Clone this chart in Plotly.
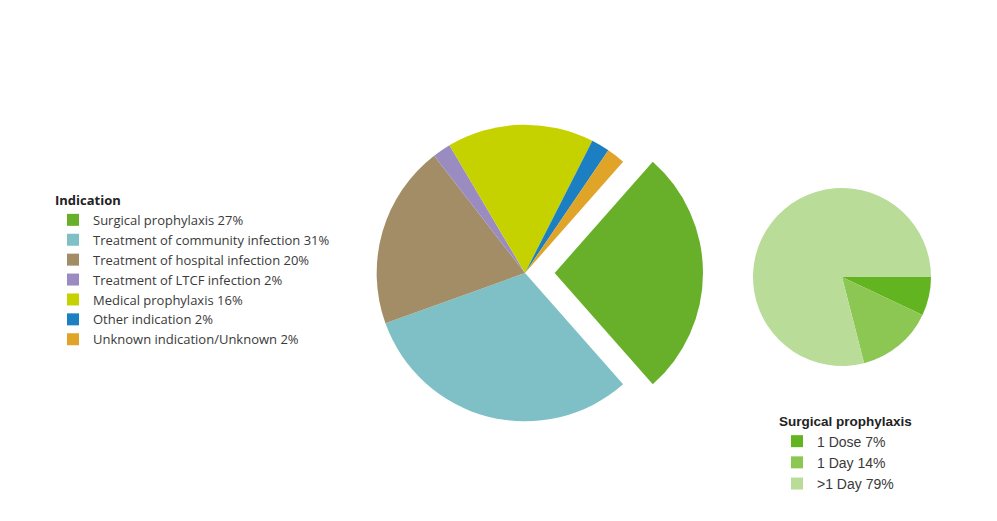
import plotly.graph_objects as go

indication_labels = ["Surgical prophylaxis 27%", "Treatment of community infection 31%",
                     "Treatment of hospital infection 20%", "Treatment of LTCF infection 2%",
                     "Medical prophylaxis 16%", "Other indication 2%", "Unknown indication/Unknown 2%"]
indication_values = [27, 31, 20, 2, 16, 2, 2]
indication_colors = ["#69b02a", "#7fbfc6", "#a38d66", "#9a8cc0", "#c6d200", "#1b7fc1", "#e0a428"]
indication_pull = [0.2, 0, 0, 0, 0, 0, 0]

surg_labels = ["1 Dose 7%", "1 Day 14%", ">1 Day 79%"]
surg_values = [7, 14, 79]
surg_colors = ["#62b421", "#8cc653", "#b9dc98"]

W, H = 997, 521
OFF = 8  # page body margin


def xd(a, b):
    return [(a - OFF) / W, (b - OFF) / W]


def yd(top, bottom):
    return [(H - bottom + OFF) / H, (H - top + OFF) / H]


fig = go.Figure()
fig.add_trace(go.Pie(
    labels=indication_labels, values=indication_values, sort=False,
    direction="clockwise", rotation=41.4, pull=indication_pull,
    marker=dict(colors=indication_colors, line=dict(width=0)),
    textinfo="none", hoverinfo="label",
    domain=dict(x=xd(347, 703), y=yd(95, 451)),
    legend="legend",
))
fig.add_trace(go.Pie(
    labels=surg_labels, values=surg_values, sort=False,
    direction="clockwise", rotation=90,
    marker=dict(colors=surg_colors, line=dict(width=0)),
    textinfo="none", hoverinfo="label",
    domain=dict(x=xd(753, 931), y=yd(188, 366)),
    legend="legend2",
))

fig.update_layout(
    width=W, height=H,
    margin=dict(l=0, r=0, t=0, b=0),
    paper_bgcolor="white", plot_bgcolor="white",
    legend=dict(
        title=dict(text="<b>Indication</b>", font=dict(size=13, color="#222", family="Open Sans")),
        font=dict(size=13, color="#3a3a3a", family="Open Sans"),
        x=45 / W, y=(H - 180) / H, xanchor="left", yanchor="top",
        tracegroupgap=0, itemclick=False, bgcolor="rgba(0,0,0,0)",
    ),
    legend2=dict(
        title=dict(text="<b>Surgical prophylaxis</b>", font=dict(size=13.5, color="#222", family="Liberation Sans")),
        font=dict(size=14, color="#3a3a3a", family="Liberation Sans"),
        x=769 / W, y=(H - 400) / H, xanchor="left", yanchor="top",
        tracegroupgap=0, itemclick=False, bgcolor="rgba(0,0,0,0)",
    ),
)

fig.write_html("out.html")
